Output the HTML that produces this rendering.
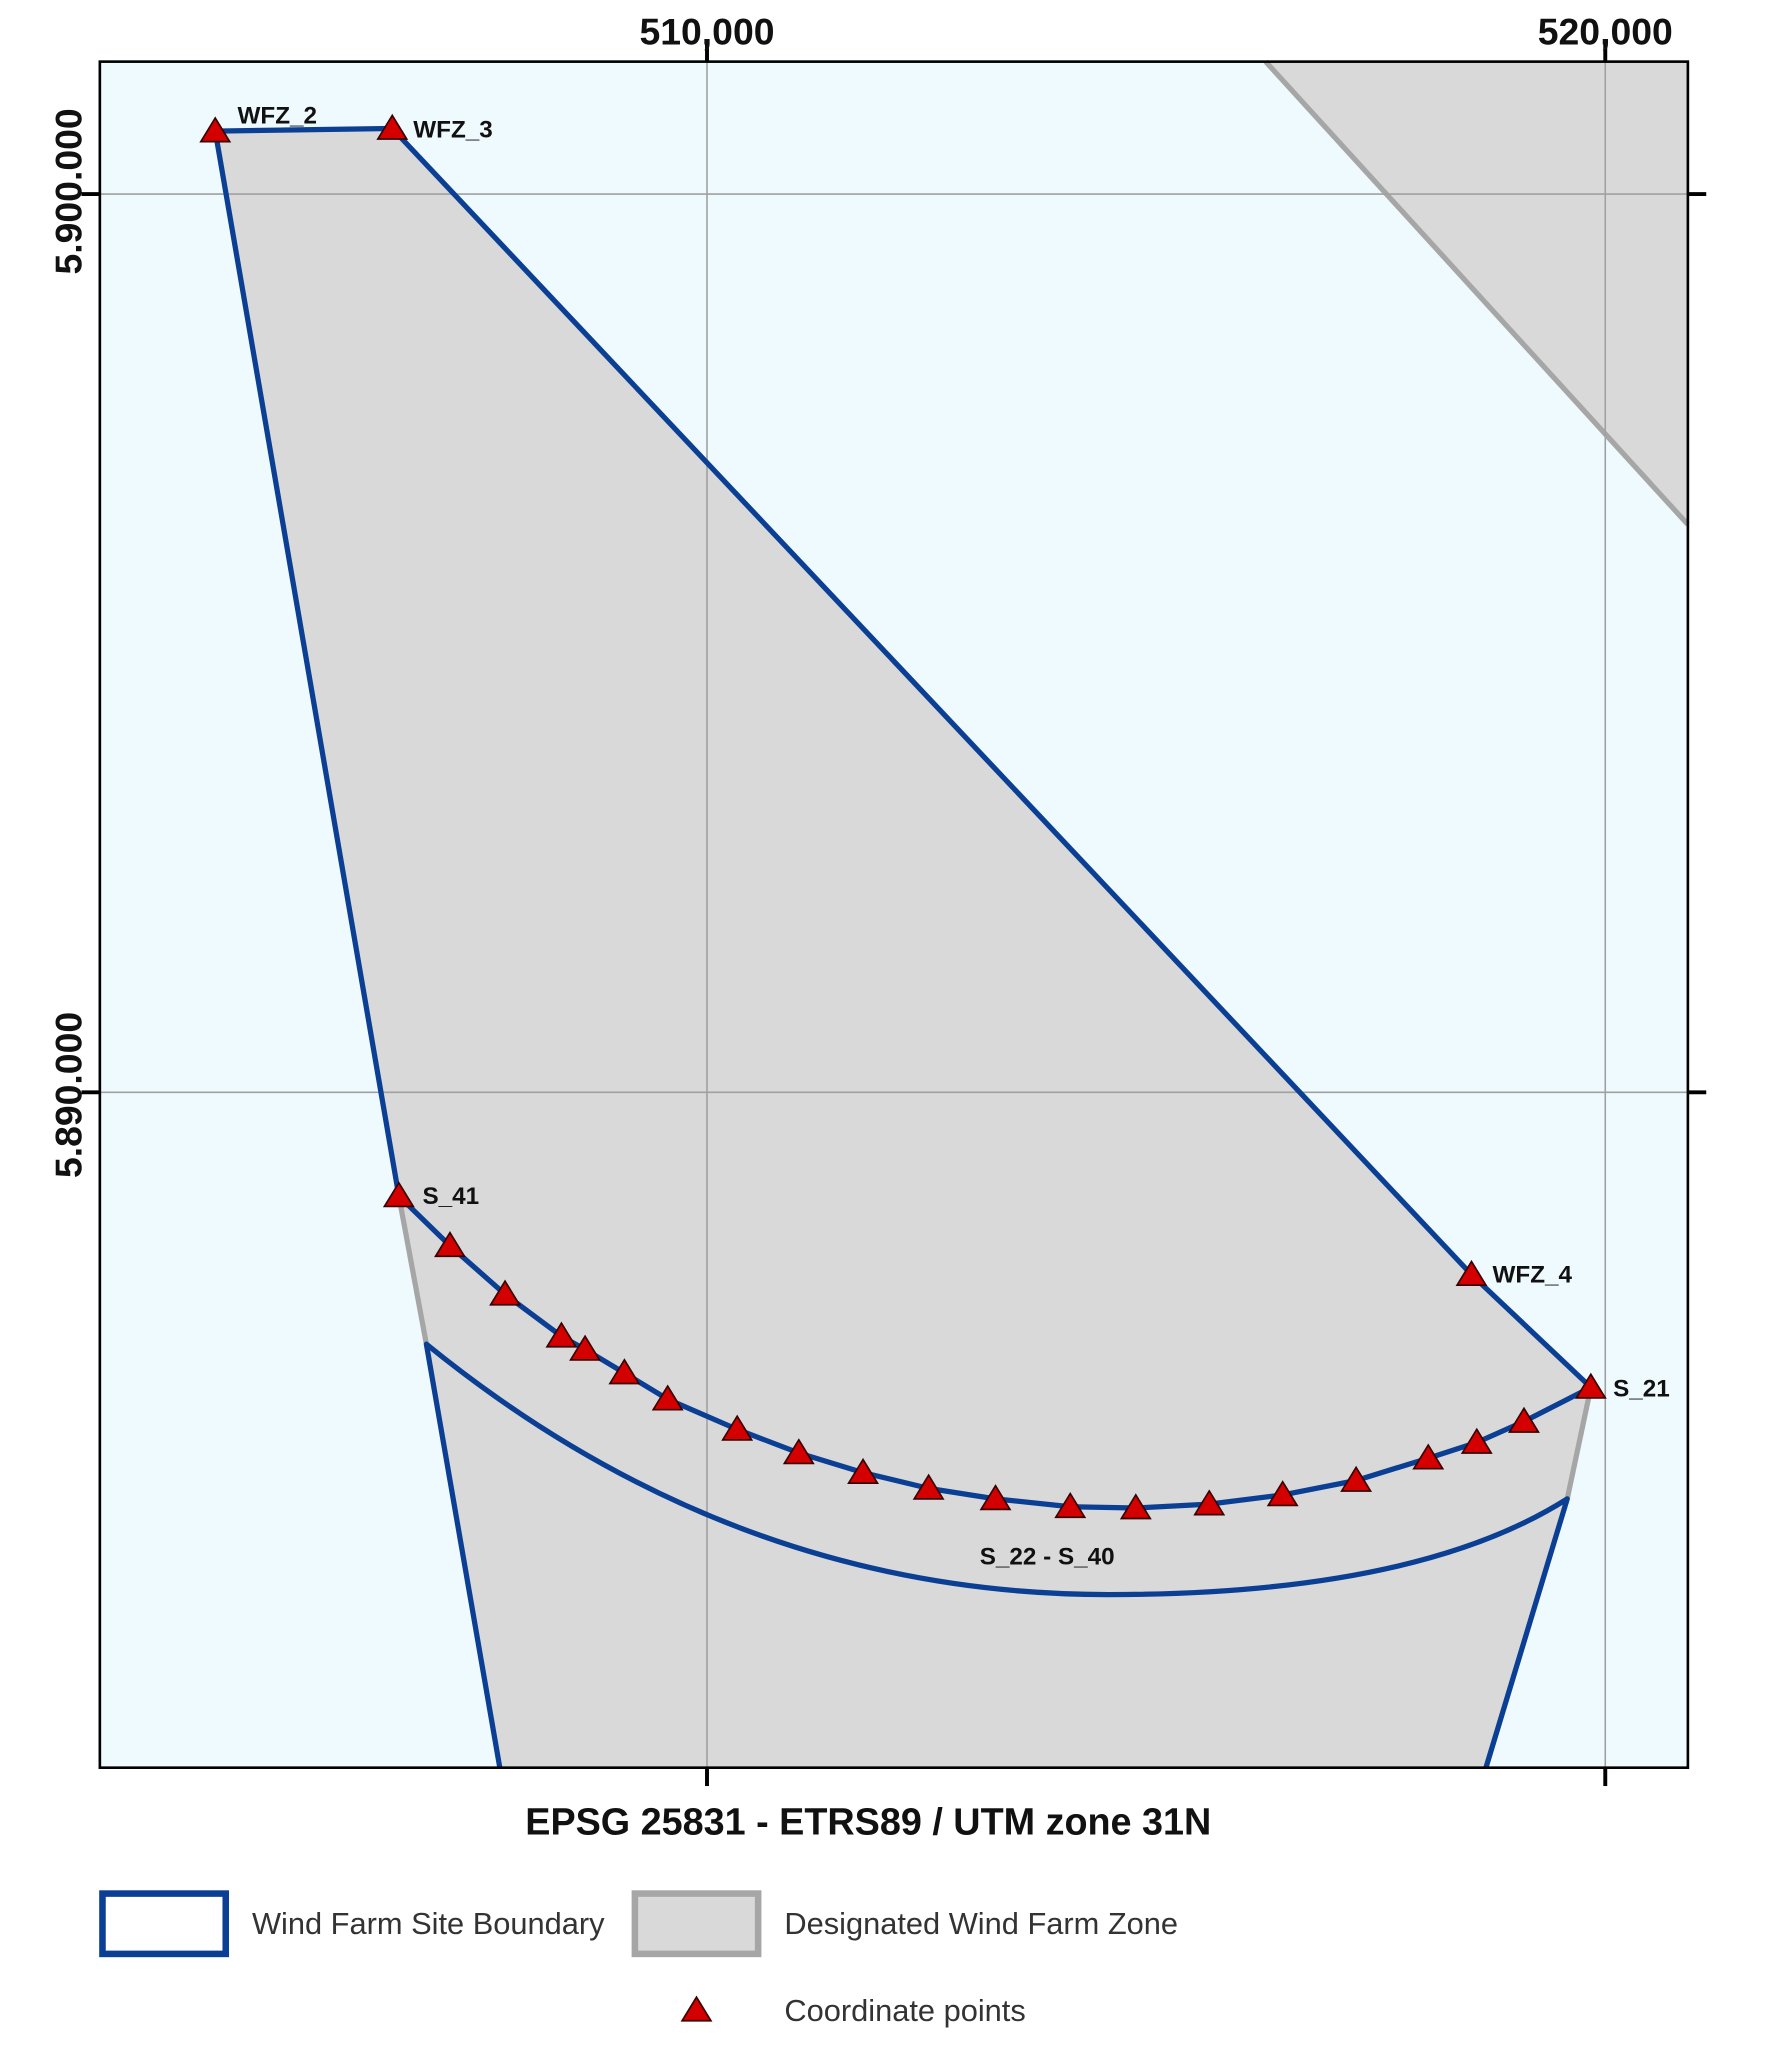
<!DOCTYPE html>
<html><head><meta charset="utf-8"><style>html,body{margin:0;padding:0;background:#fff}svg{display:block}</style></head>
<body>
<svg width="1772" height="2047" viewBox="0 0 1351 1561" xmlns="http://www.w3.org/2000/svg" font-family="Liberation Sans, sans-serif">
<defs>
<symbol id="tri" viewBox="-12 -11 24 20" overflow="visible"><polygon points="0,-10 11,8 -11,8" fill="#d40000" stroke="#3a0000" stroke-width="1.3"/></symbol>
</defs>
<rect x="76" y="47" width="1211" height="1301" fill="#effaff"/>
<polygon points="965,47 1287,47 1287,400" fill="#d9d9d9"/>
<line x1="965" y1="47" x2="1287" y2="400" stroke="#a6a6a6" stroke-width="4"/>
<path d="M164,100 L299,98 L1122,972 L1213,1058 L1195,1143 L1133,1348 L381,1348 L325,1025 L304,912 Z" fill="#d9d9d9"/>
<g stroke="#a0a0a0" stroke-width="1.2">
<line x1="539" y1="47" x2="539" y2="1348"/><line x1="1224" y1="47" x2="1224" y2="1348"/>
<line x1="76" y1="148" x2="1287" y2="148"/><line x1="76" y1="833" x2="1287" y2="833"/>
</g>
<g stroke="#000" stroke-width="3">
<line x1="539" y1="32" x2="539" y2="47"/><line x1="1224" y1="32" x2="1224" y2="47"/>
<line x1="539" y1="1348" x2="539" y2="1362"/><line x1="1224" y1="1348" x2="1224" y2="1362"/>
<line x1="1287" y1="148" x2="1301" y2="148"/><line x1="1287" y1="833" x2="1301" y2="833"/>
<line x1="62" y1="148" x2="76" y2="148"/><line x1="62" y1="833" x2="76" y2="833"/>
</g>
<g stroke="#a6a6a6" stroke-width="4" fill="none">
<line x1="304" y1="912" x2="325" y2="1025"/><line x1="1213" y1="1058" x2="1195" y2="1143"/>
</g>
<g stroke="#0b3f94" stroke-width="4" fill="none" stroke-linejoin="round">
<polyline points="304,912 343,950 385,987 428,1019 446,1029 476,1047 509,1067 562,1090 609,1108 658,1123 708,1135 759,1143 816,1149 866,1150 922,1147 978,1140 1034,1129 1089,1112 1126,1100 1162,1084 1213,1058 1122,972 299,98 164,100 304,912"/>
<path d="M381,1348 L325,1025 Q560,1216 845,1216 Q1080,1216 1195,1143 L1133,1348"/>
</g>
<rect x="76" y="47" width="1211" height="1301" fill="none" stroke="#000" stroke-width="2"/>
<g>
<use href="#tri" x="292" y="901" width="24" height="20"/>
<use href="#tri" x="331" y="939" width="24" height="20"/>
<use href="#tri" x="373" y="976" width="24" height="20"/>
<use href="#tri" x="416" y="1008" width="24" height="20"/>
<use href="#tri" x="434" y="1018" width="24" height="20"/>
<use href="#tri" x="464" y="1036" width="24" height="20"/>
<use href="#tri" x="497" y="1056" width="24" height="20"/>
<use href="#tri" x="550" y="1079" width="24" height="20"/>
<use href="#tri" x="597" y="1097" width="24" height="20"/>
<use href="#tri" x="646" y="1112" width="24" height="20"/>
<use href="#tri" x="696" y="1124" width="24" height="20"/>
<use href="#tri" x="747" y="1132" width="24" height="20"/>
<use href="#tri" x="804" y="1138" width="24" height="20"/>
<use href="#tri" x="854" y="1139" width="24" height="20"/>
<use href="#tri" x="910" y="1136" width="24" height="20"/>
<use href="#tri" x="966" y="1129" width="24" height="20"/>
<use href="#tri" x="1022" y="1118" width="24" height="20"/>
<use href="#tri" x="1077" y="1101" width="24" height="20"/>
<use href="#tri" x="1114" y="1089" width="24" height="20"/>
<use href="#tri" x="1150" y="1073" width="24" height="20"/>
<use href="#tri" x="1201" y="1047" width="24" height="20"/>
<use href="#tri" x="1110" y="961" width="24" height="20"/>
<use href="#tri" x="152" y="89" width="24" height="20"/>
<use href="#tri" x="287" y="87" width="24" height="20"/>
</g>
<g font-size="18.5" font-weight="bold" fill="#111">
<text x="181" y="94">WFZ_2</text><text x="315" y="105">WFZ_3</text>
<text x="322" y="918">S_41</text><text x="1138" y="978">WFZ_4</text>
<text x="1230" y="1065">S_21</text><text x="747" y="1193">S_22 - S_40</text>
</g>
<g font-size="28.5" font-weight="bold" fill="#111">
<text x="539" y="34" text-anchor="middle">510,000</text>
<text x="1224" y="34" text-anchor="middle">520,000</text>
<text transform="translate(62,146) rotate(-90)" text-anchor="middle">5.900.000</text>
<text transform="translate(62,835) rotate(-90)" text-anchor="middle">5.890.000</text>
<text x="662" y="1399" text-anchor="middle" font-size="28.8">EPSG 25831 - ETRS89 / UTM zone 31N</text>
</g>
<rect x="78" y="1444" width="94" height="46" fill="#fff" stroke="#0b3f94" stroke-width="5"/>
<rect x="484" y="1444" width="94" height="46" fill="#d9d9d9" stroke="#a6a6a6" stroke-width="5"/>
<use href="#tri" x="519" y="1522" width="24" height="20"/>
<g font-size="23.5" fill="#333">
<text x="192" y="1475">Wind Farm Site Boundary</text>
<text x="598" y="1475">Designated Wind Farm Zone</text>
<text x="598" y="1541">Coordinate points</text>
</g>
</svg>
</body></html>
